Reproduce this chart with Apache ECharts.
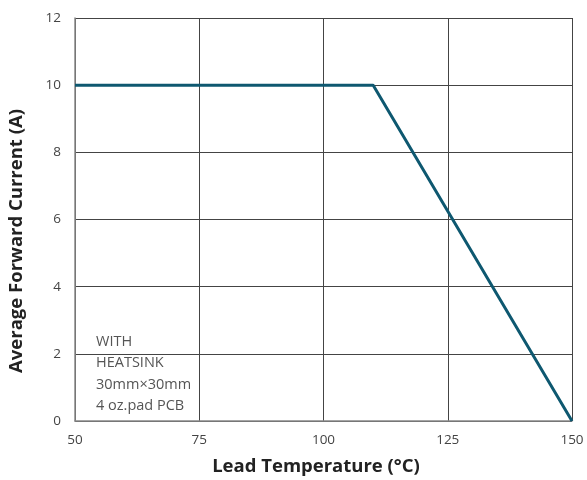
<!DOCTYPE html>
<html><head><meta charset="utf-8">
<script src="https://cdn.jsdelivr.net/npm/echarts@6/dist/echarts.min.js"></script>
<style>html,body{margin:0;padding:0;background:#fff}#c{width:587px;height:480px}</style>
</head><body><div id="c"></div>
<script>
const temps = [50, 110, 150];
const current = [10, 10, 0];
const xTicks = [50, 75, 100, 125, 150];
const yTicks = [0, 2, 4, 6, 8, 10, 12];
const noteLines = ['WITH', 'HEATSINK', '30mm×30mm', '4 oz.pad PCB'];
const xTitle = 'Lead Temperature (°C)';
const yTitle = 'Average Forward Current (A)';

const chart = echarts.init(document.getElementById('c'));
chart.setOption({
  animation: false,
  grid: {left: 75, right: 15, top: 18, bottom: 59},
  xAxis: {
    type: 'value', min: xTicks[0], max: xTicks[xTicks.length-1], interval: 25,
    axisLine: {lineStyle: {color: '#888', width: 1.5}},
    axisTick: {show: false},
    axisLabel: {fontFamily: 'Open Sans', fontSize: 13.5, color: '#444', margin: 12},
    splitLine: {show: true, lineStyle: {color: '#444', width: 1}}
  },
  yAxis: {
    type: 'value', min: yTicks[0], max: yTicks[yTicks.length-1], interval: 2,
    axisLine: {show: true, lineStyle: {color: '#888', width: 1.5}},
    axisTick: {show: false},
    axisLabel: {fontFamily: 'Open Sans', fontSize: 13.5, color: '#444', margin: 14},
    splitLine: {show: true, lineStyle: {color: '#444', width: 1}}
  },
  graphic: [{
    type: 'group', left: 85, top: 324, z: 50,
    children: [
      {type: 'rect', shape: {x: 0, y: 0, width: 124, height: 93}, style: {fill: '#fff'}},
      {type: 'text', left: 11, top: 7, style: {text: noteLines.join('\n'), font: '14.5px "Open Sans"', fill: '#555', lineHeight: 21.5}}
    ]
  }, {
    type: 'text', x: 316, y: 467, z: 50,
    style: {text: xTitle, font: 'bold 18.5px "Open Sans"', fill: '#222', align: 'center', verticalAlign: 'middle'}
  }, {
    type: 'text', x: 17, y: 241, rotation: Math.PI / 2, z: 50,
    style: {text: yTitle, font: 'bold 18.5px "Open Sans"', fill: '#222', align: 'center', verticalAlign: 'middle'}
  }],
  series: [{
    type: 'line', data: temps.map((t, i) => [t, current[i]]),
    symbol: 'none', z: 60,
    lineStyle: {color: '#0e5870', width: 3}
  }]
});
</script></body></html>
